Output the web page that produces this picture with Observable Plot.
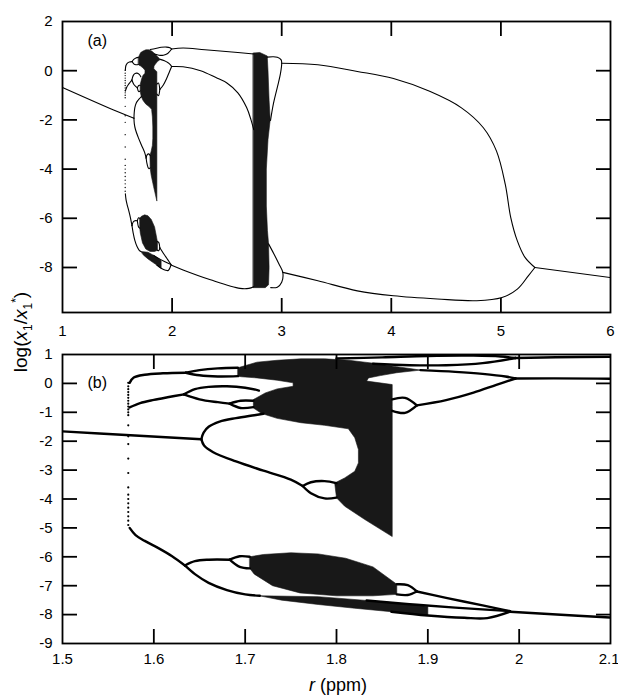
<!DOCTYPE html>
<html><head><meta charset="utf-8">
<script src="https://cdn.jsdelivr.net/npm/d3@7"></script>
<script src="https://cdn.jsdelivr.net/npm/@observablehq/plot@0.6"></script>
<style>
body{margin:0;background:#fff;}
#c{position:relative;width:618px;height:697px;background:#fff;font-family:"Liberation Sans",Arial,sans-serif;overflow:hidden;}
#c svg{position:absolute;left:0;}
.ylab{position:absolute;left:22px;top:332px;transform:translate(-50%,-50%) rotate(-90deg);font-size:19px;white-space:nowrap;}
.xlab{position:absolute;left:338px;top:685px;transform:translate(-50%,-50%);font-size:18px;white-space:nowrap;}
sub,sup{font-size:12px;}
</style></head><body><div id="c"></div>
<script>
// ---------- data (r in ppm, log(x1/x1*)) ----------
const period1 = [[1,-0.68],[1.5,-1.66],[1.652,-1.93]];
const bigLoopUpper = [[1.652,-1.93],[1.6545,-1.7],[1.66,-1.5],[1.672,-1.32],[1.69,-1.2],[1.71,-1.1],[1.72,-1.05]];
const bigLoopLower = [[1.652,-1.93],[1.655,-2.15],[1.665,-2.38],[1.69,-2.7],[1.72,-3.02],[1.75,-3.33],[1.763,-3.55]];
const smallLoopUpper = [[1.763,-3.55],[1.772,-3.42],[1.787,-3.38],[1.80,-3.45]];
const smallLoopLower = [[1.763,-3.55],[1.772,-3.8],[1.787,-3.98],[1.80,-3.95]];
const topLine = [[1.5735,0.02],[1.578,0.2],[1.59,0.3],[1.61,0.35],[1.635,0.37]];
const topLensUpper = [[1.635,0.37],[1.65,0.46],[1.67,0.52],[1.692,0.54]];
const topLensLower = [[1.635,0.37],[1.65,0.28],[1.67,0.24],[1.692,0.25]];
const midLine = [[1.5735,-0.83],[1.585,-0.68],[1.60,-0.57],[1.615,-0.48],[1.633,-0.38]];
const midLensUpper = [[1.633,-0.38],[1.645,-0.2],[1.66,-0.12],[1.68,-0.1],[1.70,-0.15],[1.715,-0.25]];
const midLensLower = [[1.633,-0.38],[1.65,-0.55],[1.67,-0.65],[1.683,-0.7]];
const midSmallUpper = [[1.683,-0.7],[1.695,-0.6],[1.709,-0.6]];
const midSmallLower = [[1.683,-0.7],[1.695,-0.85],[1.709,-0.82]];
const lowLine = [[1.5735,-5.0],[1.58,-5.25],[1.59,-5.45],[1.605,-5.7],[1.62,-5.98],[1.634,-6.3]];
const lowLensUpper = [[1.634,-6.3],[1.645,-6.15],[1.66,-6.1],[1.683,-6.1]];
const lowSmallUpper = [[1.683,-6.1],[1.694,-5.98],[1.705,-6.0]];
const lowSmallLower = [[1.683,-6.1],[1.694,-6.35],[1.705,-6.4]];
const lowLensLower = [[1.634,-6.3],[1.645,-6.6],[1.66,-6.9],[1.68,-7.15],[1.70,-7.3],[1.716,-7.35]];
const rightLensUpper = [[1.861,-0.55],[1.875,-0.5],[1.888,-0.76]];
const rightLensLower = [[1.861,-0.95],[1.875,-1.02],[1.888,-0.76]];
const rightRise = [[1.888,-0.76],[1.92,-0.58],[1.95,-0.32],[1.975,-0.05],[1.996,0.17]];
const lensMUpper = [[1.892,0.46],[1.93,0.4],[1.96,0.33],[1.985,0.24],[1.996,0.17]];
const lensUUpper = [[1.80,0.86],[1.85,0.9],[1.9,0.95],[1.95,0.96],[1.98,0.93],[1.996,0.88]];
const lensULower = [[1.84,0.68],[1.88,0.63],[1.92,0.63],[1.96,0.7],[1.996,0.88]];
const lowRightLensUpper = [[1.866,-6.95],[1.878,-6.98],[1.888,-7.2]];
const lowRightLensLower = [[1.866,-7.3],[1.878,-7.32],[1.888,-7.2]];
const lowRightLine = [[1.888,-7.2],[1.92,-7.42],[1.96,-7.68],[1.99,-7.88]];
const wedgeTopLine = [[1.833,-7.51],[1.88,-7.64],[1.93,-7.76],[1.99,-7.88]];
const lowBigLensLower = [[1.86,-7.9],[1.9,-8.03],[1.94,-8.11],[1.965,-8.12],[1.99,-7.9]];
const p3Top = [[1.996,0.88],[2.1,0.92],[2.3,0.85],[2.6,0.74],[2.745,0.68]];
const p3Mid = [[1.996,0.17],[2.1,0.16],[2.26,0.0],[2.4,-0.28],[2.5,-0.5],[2.6,-0.9],[2.68,-1.5],[2.72,-2.0],[2.745,-2.4]];
const p3Low = [[1.99,-7.9],[2.1,-8.1],[2.35,-8.5],[2.62,-8.85],[2.7,-8.85],[2.745,-8.78]];
const teardropTop = [[2.868,0.55],[2.92,0.57],[2.96,0.55],[2.995,0.44],[3.0,0.3],[2.989,-0.11],[2.96,-0.68],[2.925,-1.33],[2.898,-2.02]];
const teardropBottom = [[2.88,-7.04],[2.928,-7.44],[2.974,-7.85],[3.01,-8.2],[3.0,-8.6],[2.96,-8.8],[2.9,-8.82]];
const postTop = [[3.0,0.3],[3.33,0.24],[3.69,-0.03],[4.02,-0.32],[4.35,-0.84],[4.64,-1.51],[4.84,-2.32],[4.96,-3.27],[5.04,-4.62],[5.09,-5.97],[5.15,-6.92],[5.22,-7.59],[5.31,-8.0]];
const postLow = [[3.01,-8.2],[3.33,-8.54],[3.69,-8.95],[4.02,-9.15],[4.42,-9.28],[4.78,-9.35],[5.01,-9.22],[5.15,-8.88],[5.25,-8.34],[5.31,-8.0]];
const tail = [[5.31,-8.0],[6,-8.41]];

// chaotic regions (outlines)
const chaosUpper = [[1.692,0.54],[1.713,0.735],[1.735,0.80],[1.761,0.85],[1.787,0.85],[1.8135,0.80],[1.84,0.70],[1.866,0.58],[1.892,0.46],
 [1.866,0.37],[1.848,0.27],[1.835,0.19],[1.833,0.08],[1.861,-0.04],[1.861,-0.8],[1.861,-3.1],[1.861,-5.3],
 [1.831,-4.71],[1.809,-4.25],[1.80,-3.96],[1.798,-3.45],[1.809,-3.27],[1.82,-3.04],[1.824,-2.75],[1.824,-2.29],[1.82,-1.88],[1.813,-1.57],
 [1.787,-1.45],[1.761,-1.36],[1.735,-1.21],[1.718,-1.04],[1.709,-0.85],[1.709,-0.56],[1.722,-0.33],[1.735,-0.19],[1.7525,-0.1],
 [1.7525,0.02],[1.735,0.11],[1.713,0.19],[1.696,0.23],[1.692,0.25]];
const chaosLow = [[1.705,-6.0],[1.72,-5.92],[1.75,-5.86],[1.78,-5.9],[1.81,-6.05],[1.84,-6.35],[1.866,-6.95],[1.866,-7.3],[1.84,-7.35],[1.80,-7.35],[1.76,-7.25],[1.73,-7.0],[1.71,-6.6],[1.705,-6.4]];
const chaosWedge = [[1.716,-7.35],[1.78,-7.38],[1.833,-7.51],[1.88,-7.64],[1.9,-7.72],[1.9,-8.03],[1.86,-7.9],[1.82,-7.78],[1.78,-7.65],[1.74,-7.5]];
const chaosBand = [[2.74,0.72],[2.8,0.74],[2.868,0.6],[2.875,0.0],[2.885,-1.2],[2.895,-2.0],[2.875,-2.8],[2.86,-4],[2.86,-5.5],[2.87,-6.5],[2.88,-7.04],[2.885,-8.0],[2.88,-8.7],[2.85,-8.82],[2.74,-8.82]];

// transient points on the vertical dotted line
const dottedR = 1.572;
const dottedY = [0.02,-0.1,-0.2,-0.3,-0.4,-0.5,-0.6,-0.7,-0.8,-0.9,-1.0,-1.1,-1.45,-1.83,-2.1,-2.6,-3.1,-3.6,-3.85,-4.0,-4.15,-4.3,-4.45,-4.6,-4.75,-4.9];

// axes
const aXLabels = [1,2,3,4,5,6], aXTicks = [2,3,4,5];
const aYLabels = [2,0,-2,-4,-6,-8], aYTicks = [0,-2,-4,-6,-8];
const bXLabels = [1.5,1.6,1.7,1.8,1.9,2], bXLast = [2.1], bXTicks = [1.6,1.7,1.8,1.9,2];
const bYLabels = [1,0,-1,-2,-3,-4,-5,-6,-7,-8,-9], bYTicks = [0,-1,-2,-3,-4,-5,-6,-7,-8];

const branches = [period1,bigLoopUpper,bigLoopLower,smallLoopUpper,smallLoopLower,topLine,topLensUpper,topLensLower,
 midLine,midLensUpper,midLensLower,midSmallUpper,midSmallLower,lowLine,lowLensUpper,lowSmallUpper,lowSmallLower,lowLensLower,
 rightLensUpper,rightLensLower,rightRise,lensMUpper,lensUUpper,lensULower,lowRightLensUpper,lowRightLensLower,lowRightLine,wedgeTopLine,lowBigLensLower,
 p3Top,p3Mid,p3Low,teardropTop,teardropBottom,postTop,postLow,tail];
const chaos = [chaosUpper,chaosLow,chaosWedge,chaosBand];

const X = d => d[0], Y = d => d[1];
const fmt = d => String(d);

function panel({xDomain,yDomain,top,height,mt,mb,sw,dotR,xl,xlast,xt,yl,yt,tag,tagDy,padX}) {
  const marks = [];
  for (const c of chaos) marks.push(Plot.line(c,{x:X,y:Y,fill:"#181818",stroke:"#181818",strokeWidth:0.6,curve:"linear-closed",clip:true}));
  for (const b of branches) marks.push(Plot.line(b,{x:X,y:Y,stroke:"black",strokeWidth:sw,curve:"catmull-rom",clip:true}));
  marks.push(Plot.dot(dottedY,{x:()=>dottedR,y:d=>d,r:dotR,fill:"black",stroke:null,clip:true}));
  marks.push(Plot.frame({stroke:"black",strokeWidth:1.8}));
  marks.push(Plot.axisX(xt,{anchor:"bottom",tickSize:-14,strokeWidth:1.8,tickFormat:()=>""}));
  marks.push(Plot.axisX(xt,{anchor:"top",tickSize:-14,strokeWidth:1.8,tickFormat:()=>""}));
  marks.push(Plot.axisY(yt,{anchor:"left",tickSize:-15,strokeWidth:1.8,tickFormat:()=>""}));
  marks.push(Plot.axisY(yt,{anchor:"right",tickSize:-15,strokeWidth:1.8,tickFormat:()=>""}));
  marks.push(Plot.axisX(xl,{anchor:"bottom",tickSize:0,tickPadding:padX,fontSize:15,tickFormat:fmt}));
  if (xlast) marks.push(Plot.axisX(xlast,{anchor:"bottom",tickSize:0,tickPadding:padX,fontSize:15,tickFormat:fmt,textAnchor:"end",dx:9}));
  marks.push(Plot.axisY(yl,{anchor:"left",tickSize:0,tickPadding:10,fontSize:15,tickFormat:fmt}));
  marks.push(Plot.text([tag],{frameAnchor:"top-left",dx:25,dy:tagDy,fontSize:16,textAnchor:"start"}));
  const svg = Plot.plot({
    width:618,height,marginLeft:62,marginRight:8,marginTop:mt,marginBottom:mb,
    style:{fontFamily:"Liberation Sans, Arial, sans-serif",color:"black",background:"transparent"},
    x:{domain:xDomain,axis:null},y:{domain:yDomain,axis:null},
    marks
  });
  svg.style.top = top+"px";
  return svg;
}

const c = document.getElementById("c");
c.appendChild(panel({xDomain:[1,6],yDomain:[-9.83,2],top:0,height:345,mt:21,mb:33,sw:1.1,dotR:0.7,
  xl:aXLabels,xlast:null,xt:aXTicks,yl:aYLabels,yt:aYTicks,tag:"(a)",tagDy:13,padX:13}));
c.appendChild(panel({xDomain:[1.5,2.1],yDomain:[-9,1],top:335,height:345,mt:19,mb:37,sw:2.4,dotR:1.1,
  xl:bXLabels,xlast:bXLast,xt:bXTicks,yl:bYLabels,yt:bYTicks,tag:"(b)",tagDy:22,padX:10}));
const yl = document.createElement("div"); yl.className="ylab";
yl.innerHTML = 'log(<i>x</i><sub>1</sub>/<i>x</i><sub>1</sub><sup>*</sup>)';
c.appendChild(yl);
const xl = document.createElement("div"); xl.className="xlab";
xl.innerHTML = '<i>r</i> (ppm)';
c.appendChild(xl);
</script></body></html>
